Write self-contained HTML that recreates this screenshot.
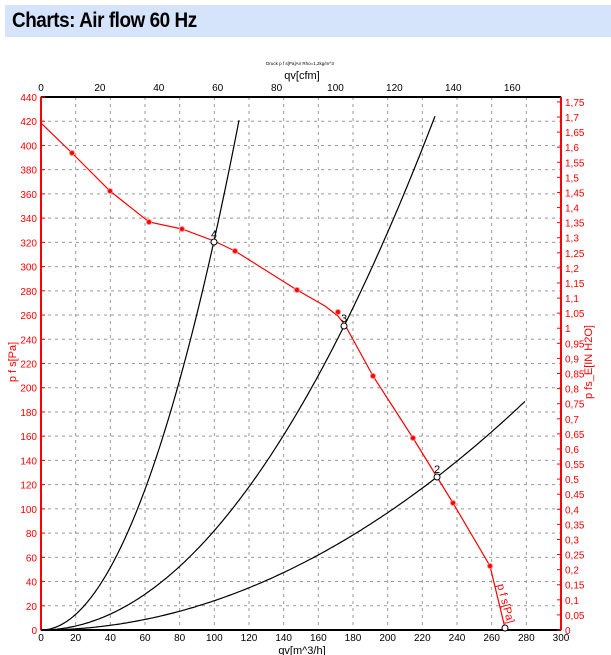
<!DOCTYPE html>
<html><head><meta charset="utf-8"><style>
body{margin:0;width:611px;height:655px;background:#fff;overflow:hidden;font-family:"Liberation Sans",sans-serif}
.t{position:absolute;left:5px;top:5px;width:606px;height:32px;background:#d6e4fb;}
.t span{position:absolute;left:7px;top:4px;font-weight:bold;font-size:21px;letter-spacing:-0.5px;transform:scaleX(0.9);transform-origin:left}
svg{position:absolute;left:0;top:0}
</style></head><body>
<div class="t"><span>Charts: Air flow 60 Hz</span></div>
<svg id="s" width="611" height="655" font-family="Liberation Sans, sans-serif"></svg>
<script>
const X0=41,X1=561,Y0=630,Y1=97;
const px=v=>X0+v*520/300, py=v=>Y0-v*533/440;
let h='';
for(let v=20;v<300;v+=20)h+=`<line x1="${px(v)}" y1="${Y1}" x2="${px(v)}" y2="${Y0}" stroke="#999" stroke-dasharray="3,4"/>`;
for(let v=20;v<440;v+=20)h+=`<line x1="${X0}" y1="${py(v)}" x2="${X1}" y2="${py(v)}" stroke="#999" stroke-dasharray="3,4"/>`;
h+=`<rect x="${X0}" y="${Y1}" width="${X1-X0}" height="${Y0-Y1}" fill="none" stroke="#000"/>`;
h+=`<line x1="${X0}" y1="${Y1}" x2="${X1}" y2="${Y1}" stroke="#000" stroke-width="2"/><line x1="${X0}" y1="${Y0}" x2="${X1}" y2="${Y0}" stroke="#000" stroke-width="2"/>`;
h+=`<line x1="${X0}" y1="${Y1}" x2="${X0}" y2="${Y0}" stroke="red" stroke-width="2"/><line x1="${X1}" y1="${Y1}" x2="${X1}" y2="${Y0}" stroke="red" stroke-width="2"/>`;
for(let v=0;v<=300;v+=20)h+=`<text x="${px(v)}" y="641" font-size="10" text-anchor="middle">${v}</text>`;
for(let v=0;v<=440;v+=20)h+=`<text x="37" y="${py(v)+4}" font-size="10" text-anchor="end" fill="red">${v}</text><line x1="${X0}" y1="${py(v)}" x2="${X0+4}" y2="${py(v)}" stroke="red"/>`;
for(let v=0;v<=160;v+=20){let x=X0+v*1.699*520/300;h+=`<text x="${x}" y="91" font-size="10" text-anchor="middle">${v}</text>`;}
for(let v=0;v<=35;v++){let y=Y0-v*0.05*249.1*533/440;h+=`<text x="565" y="${y+4}" font-size="10" fill="red">${(v*0.05).toFixed(2).replace(/0$/,'').replace(/\.0$/,'').replace('.',',')}</text><line x1="${X1}" y1="${y}" x2="${X1-4}" y2="${y}" stroke="red"/>`;}
h+=`<text x="300" y="65" font-size="4.5" text-anchor="middle">Druck p f s[Pa]Air Rho=1,2kg/m^3</text>`;
h+=`<text x="302" y="79" font-size="11" text-anchor="middle">qv[cfm]</text>`;
h+=`<text x="302" y="654" font-size="11" text-anchor="middle">qv[m^3/h]</text>`;
h+=`<text transform="translate(16,362) rotate(-90)" font-size="11" fill="red" text-anchor="middle">p f s[Pa]</text>`;
h+=`<text transform="translate(592,362) rotate(-90)" font-size="11" fill="red" text-anchor="middle">p fs_E[IN H2O]</text>`;
[[0.013,239],[0.00331,436],[0.000976,525]].forEach(([k,xe])=>{let p='';for(let x=X0;x<=xe;x+=2)p+=(p?'L':'M')+x+','+(Y0-k*(x-X0)*(x-X0)).toFixed(1);h+=`<path d="${p}" fill="none" stroke="#000" stroke-width="1.2"/>`;});
const R=[[41,123],[72,153],[110,191],[149,222],[182,229],[214,241],[235,251],[297,290],[325,306],[338,316],[345,325],[373,376],[413,438],[453,503],[490,566],[505,628]];
h+=`<polyline points="${R.map(p=>p.join(',')).join(' ')}" fill="none" stroke="red" stroke-width="1.2"/>`;
[[72,153],[110,191],[149,222],[182,229],[235,251],[297,290],[338,312],[373,376],[413,438],[453,503],[490,566]].forEach(p=>h+=`<circle cx="${p[0]}" cy="${p[1]}" r="2.5" fill="red" stroke="#f88"/>`);
[[214,242,'4'],[344,326,'3'],[437,477,'2'],[505,628,'']].forEach(p=>{h+=`<circle cx="${p[0]}" cy="${p[1]}" r="3" fill="#fff" stroke="#000"/><text x="${p[0]-3}" y="${p[1]-4}" font-size="11">${p[2]}</text>`;});
h+=`<text transform="translate(497,585) rotate(75)" font-size="11" fill="red">p f s[Pa]</text>`;
document.getElementById('s').innerHTML=h;
</script>
</body></html>
